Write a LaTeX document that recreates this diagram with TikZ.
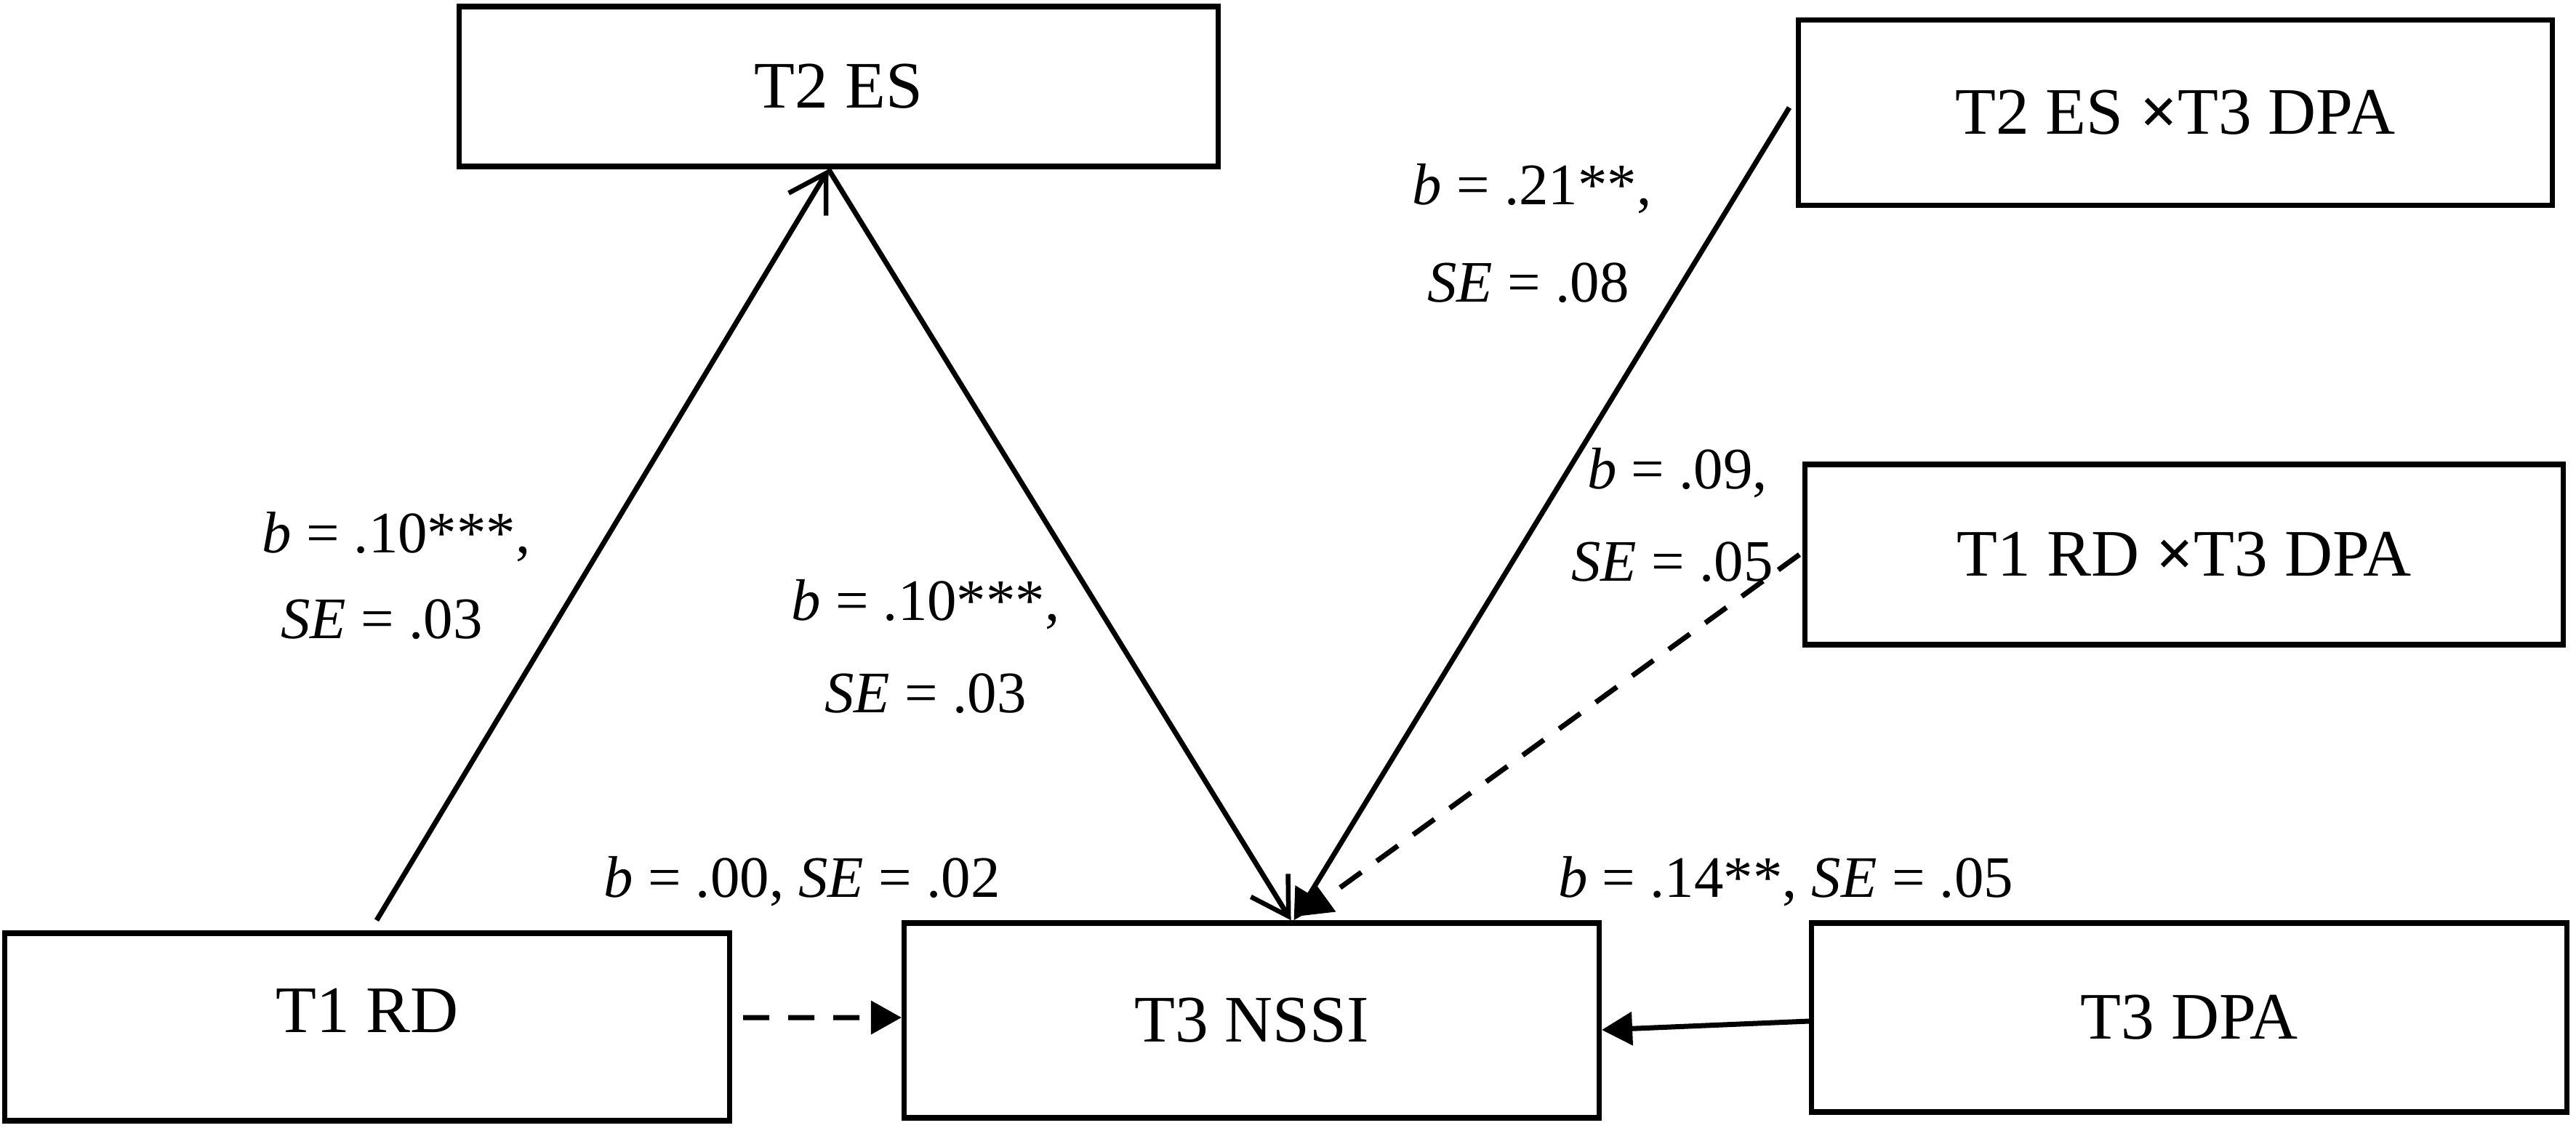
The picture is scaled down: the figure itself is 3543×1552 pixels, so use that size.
\documentclass[tikz,border=0pt]{standalone}
\usepackage{fontspec}
\setmainfont{Liberation Serif}
\usetikzlibrary{arrows.meta}
\begin{document}
\begin{tikzpicture}[x=0.01cm,y=-0.01cm,
  box/.style={draw,line width=0.075cm,rectangle,inner sep=0pt,font=\fontsize{26}{31}\selectfont},
  lbl/.style={inner sep=0pt,font=\fontsize{23}{28}\selectfont},
  conn/.style={line width=0.07cm},
  dsh/.style={dash pattern=on 0.36cm off 0.26cm},
  openhead/.style={-{Straight Barb[length=0.5cm,width=0.6cm,line width=0.065cm]}},
  filledhead/.style={-{Triangle[length=0.42cm,width=0.45cm]}}
]
\useasboundingbox[fill=white] (0,0) rectangle (3543,1552);

\node[box,minimum width=10.43cm,minimum height=2.2cm] (t2es) at (1153.5,119) {T2 ES};
\node[box,minimum width=10.36cm,minimum height=2.55cm] (t2esx) at (2992,155) {T2 ES \textbf{×}T3 DPA};
\node[box,minimum width=10.42cm,minimum height=2.48cm] (t1rdx) at (3004,763) {T1 RD \textbf{×}T3 DPA};
\node[box,minimum width=9.96cm,minimum height=2.58cm,text depth=0.45cm] (t1rd) at (505,1413) {T1 RD};
\node[box,minimum width=9.55cm,minimum height=2.68cm] (nssi) at (1721.5,1404) {T3 NSSI};
\node[box,minimum width=10.38cm,minimum height=2.6cm] (t3dpa) at (3011,1400) {T3 DPA};

\draw[conn,openhead] ([xshift=0.13cm,yshift=0.14cm]t1rd.north) -- ([xshift=-0.14cm]t2es.south);
\draw[conn,openhead] ([xshift=-0.14cm]t2es.south) -- ([xshift=0.54cm]nssi.north);
\draw[conn,filledhead] ([xshift=-0.09cm,yshift=0.07cm]t2esx.west) -- ([xshift=0.58cm]nssi.north);
\draw[conn,dsh,filledhead] ([xshift=-0.04cm]t1rdx.west) -- ([xshift=0.68cm,yshift=0.06cm]nssi.north);
\draw[conn,dsh,filledhead] ([xshift=0.15cm,yshift=0.13cm]t1rd.east) -- ([yshift=0.04cm]nssi.west);
\draw[conn,filledhead] ([yshift=-0.05cm]t3dpa.west) -- ([yshift=-0.13cm]nssi.east);

\node[lbl] (l1a) at (545,739) {\textit{b} = .10***,};
\node[lbl] (l1b) at (525,852) {\textit{SE} = .03};
\node[lbl] (l2a) at (1273,832) {\textit{b} = .10***,};
\node[lbl] (l2b) at (1273,954) {\textit{SE} = .03};
\node[lbl] (l3) at (1103,1213) {\textit{b} = .00, \textit{SE} = .02};
\node[lbl] (l4a) at (2107,260) {\textit{b} = .21**,};
\node[lbl] (l4b) at (2102,389) {\textit{SE} = .08};
\node[lbl] (l5a) at (2307,651) {\textit{b} = .09,};
\node[lbl] (l5b) at (2300,773) {\textit{SE} = .05};
\node[lbl] (l6) at (2456,1213) {\textit{b} = .14**, \textit{SE} = .05};
\end{tikzpicture}
\end{document}
